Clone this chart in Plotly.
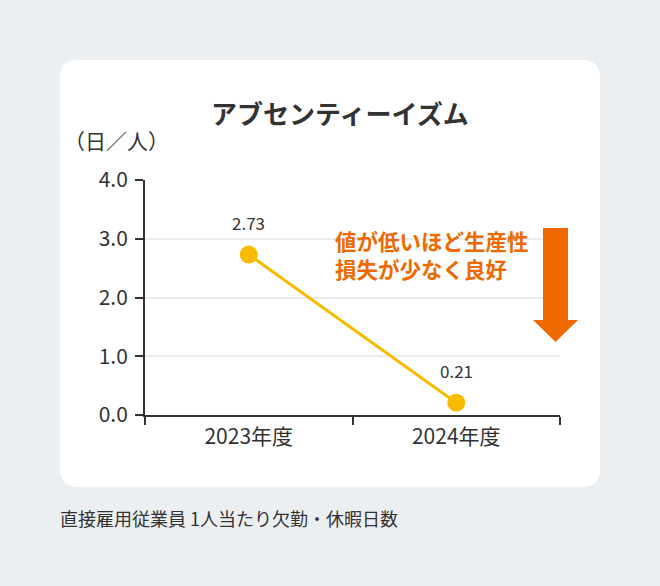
import plotly.graph_objects as go

years = ["2023年度", "2024年度"]
days = [2.73, 0.21]
y_ticks = [0, 1, 2, 3, 4]

W, H = 660, 586
L, R, T, B = 145, 560, 180, 415  # plot area in px


def px(x, y):
    # pixel -> paper coords
    return (x - L) / (R - L), (B - y) / (B - T)


def path(points):
    s = ""
    for cmd, x, y in points:
        a, b = px(x, y)
        s += f"{cmd}{a:.5f},{b:.5f} "
    return s + "Z"


# white rounded card
x0, y0, x1, y1, r = 60, 60, 600, 487, 18
card = [("M", x0 + r, y0), ("L", x1 - r, y0), ("Q", x1, y0), (" ", x1, y0 + r),
        ("L", x1, y1 - r), ("Q", x1, y1), (" ", x1 - r, y1),
        ("L", x0 + r, y1), ("Q", x0, y1), (" ", x0, y1 - r),
        ("L", x0, y0 + r), ("Q", x0, y0), (" ", x0 + r, y0)]

arrow = [("M", 543, 228), ("L", 568, 228), ("L", 568, 320), ("L", 578, 320),
         ("L", 555.5, 342), ("L", 533, 320), ("L", 543, 320)]

fig = go.Figure()
fig.add_trace(go.Scatter(x=years, y=days, mode="lines+markers",
                         line=dict(color="#F7BB00", width=3),
                         marker=dict(color="#F7BB00", size=18),
                         cliponaxis=False, hoverinfo="skip"))

# value labels
for yr, v in zip(years, days):
    fig.add_annotation(x=yr, y=v, text=f"{v:.2f}", showarrow=False, yshift=32,
                       font=dict(size=17, color="#333333"))

fig.update_layout(
    width=W, height=H,
    margin=dict(l=L, r=W - R, t=T, b=H - B),
    paper_bgcolor="#ECEFF2", plot_bgcolor="white",
    font=dict(family="Noto Sans CJK JP", color="#333333"),
    showlegend=False,
    shapes=[
        dict(type="path", xref="paper", yref="paper", path=path(card),
             fillcolor="white", line=dict(width=0), layer="below"),
        dict(type="path", xref="paper", yref="paper", path=path(arrow),
             fillcolor="#EE6A00", line=dict(width=0)),
    ],
)

texts = [
    ("<b>アブセンティーイズム</b>", 340, 112, 26, "#333333", "center"),
    ("（日／人）", 62, 140, 21, "#333333", "left"),
    ("<b>値が低いほど生産性<br>損失が少なく良好</b>", 333, 254, 21.5, "#EE6A00", "left"),
    ("直接雇用従業員 1人当たり欠勤・休暇日数", 58, 518, 18, "#333333", "left"),
]
for t, x, y, size, color, anchor in texts:
    fig.add_annotation(text=t, x=px(x, 0)[0], y=px(0, y)[1], xref="paper", yref="paper",
                       showarrow=False, align="left", xanchor=anchor, yanchor="middle",
                       font=dict(size=size, color=color))

fig.update_xaxes(type="category", range=[-0.5, 1.5], tickson="boundaries",
                 ticks="outside", ticklen=8, tickwidth=2, tickcolor="#333333",
                 showline=True, linewidth=2, linecolor="#333333", showgrid=False,
                 ticklabelstandoff=2,
                 tickfont=dict(size=21, color="#333333"))
fig.update_yaxes(range=[0, 4], tickvals=y_ticks, tickformat=".1f",
                 ticks="outside", ticklen=8, tickwidth=2, tickcolor="#333333",
                 showline=True, linewidth=2, linecolor="#333333",
                 gridcolor="#E9EDF1", gridwidth=1.5, zeroline=False,
                 ticklabelstandoff=3,
                 tickfont=dict(size=21, color="#333333"))

fig.write_html("out.html", config={"displayModeBar": False},
               post_script="document.body.style.margin='0';document.body.style.overflow='hidden';")
